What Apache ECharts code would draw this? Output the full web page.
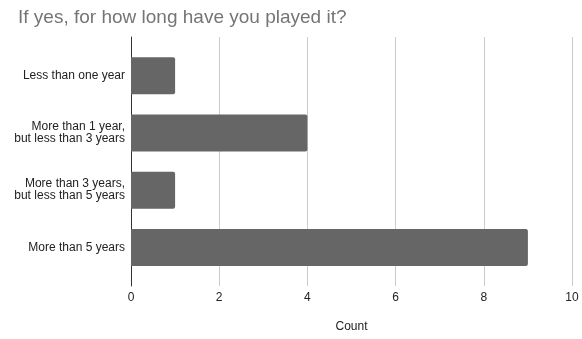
<!DOCTYPE html>
<html>
<head>
<meta charset="utf-8">
<script src="https://cdn.jsdelivr.net/npm/echarts@6/dist/echarts.min.js"></script>
<style>
  html, body { margin: 0; padding: 0; background: #fff; }
  #chart { width: 582px; height: 339px; }
</style>
</head>
<body>
<div id="chart"></div>
<script>
// Survey answers: how long respondents have played
const categories = [
  'Less than one year',
  'More than 1 year,\nbut less than 3 years',
  'More than 3 years,\nbut less than 5 years',
  'More than 5 years'
];
const counts = [1, 4, 1, 9];
const countTicks = { min: 0, max: 10, interval: 2 };

const FONT = '"Liberation Sans", Arial, sans-serif';
const chart = echarts.init(document.getElementById('chart'), null, { renderer: 'canvas' });

chart.setOption({
  backgroundColor: '#ffffff',
  animation: false,
  title: {
    text: 'If yes, for how long have you played it?',
    left: 13,
    top: 3,
    textStyle: { fontFamily: FONT, fontSize: 19, fontWeight: 'normal', color: '#757575' }
  },
  grid: [
    // frame grid: gridlines, ticks and the zero line
    { left: 131, right: 10, top: 37, bottom: 53 },
    // bar grid: category bands
    { left: 131, right: 10, top: 47, bottom: 63 }
  ],
  xAxis: [
    {
      gridIndex: 0,
      type: 'value',
      min: countTicks.min, max: countTicks.max, interval: countTicks.interval,
      name: 'Count',
      nameLocation: 'middle',
      nameGap: 35,
      nameTextStyle: { fontFamily: FONT, fontSize: 12, color: '#222' },
      axisLine: { show: false },
      axisTick: { show: false },
      axisLabel: { margin: 6, fontFamily: FONT, fontSize: 12, color: '#222' },
      splitLine: { show: true, lineStyle: { color: '#cccccc', width: 1 } }
    },
    {
      gridIndex: 1,
      type: 'value',
      min: countTicks.min, max: countTicks.max,
      show: false
    }
  ],
  yAxis: [
    {
      gridIndex: 0,
      type: 'value',
      min: 0, max: 1,
      axisLine: { show: true, lineStyle: { color: '#333333', width: 1 } },
      axisTick: { show: false },
      axisLabel: { show: false },
      splitLine: { show: false }
    },
    {
      gridIndex: 1,
      type: 'category',
      inverse: true,
      data: categories,
      axisLine: { show: false },
      axisTick: { show: false },
      axisLabel: {
        margin: 6,
        fontFamily: FONT, fontSize: 12, lineHeight: 12, color: '#222',
        align: 'right'
      },
      splitLine: { show: false }
    }
  ],
  series: [
    {
      type: 'bar',
      xAxisIndex: 1,
      yAxisIndex: 1,
      data: counts,
      barWidth: 37,
      itemStyle: { color: '#666666', borderRadius: [0, 2, 2, 0] }
    }
  ]
});
</script>
</body>
</html>
